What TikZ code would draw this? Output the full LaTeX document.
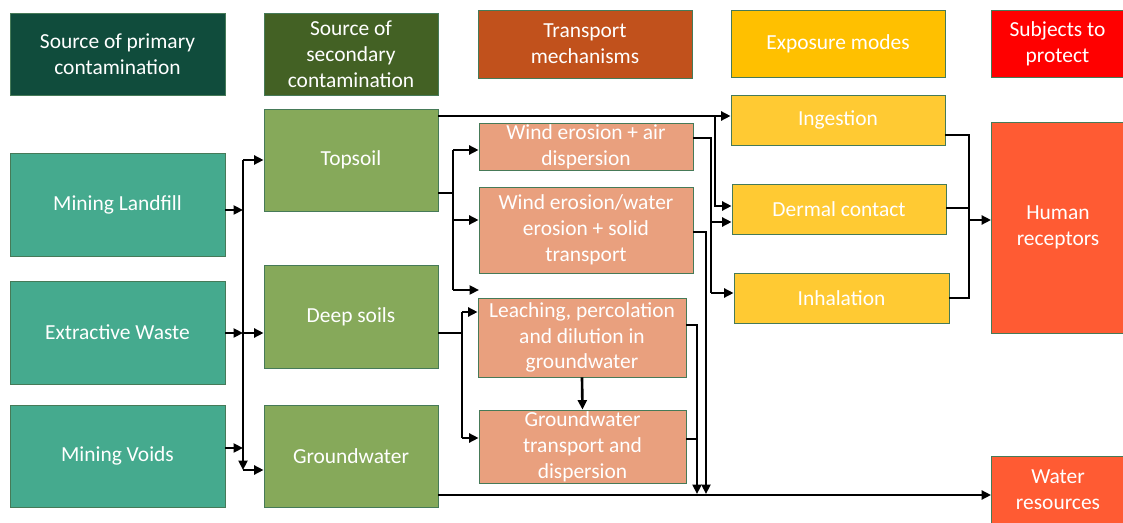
\documentclass[tikz,border=0pt]{standalone}
\usepackage{fontspec}
\setmainfont{Carlito}
\usetikzlibrary{arrows.meta}
\definecolor{primdark}{RGB}{16,76,60}
\definecolor{secdark}{RGB}{67,97,36}
\definecolor{transdark}{RGB}{193,81,28}
\definecolor{expodark}{RGB}{255,192,0}
\definecolor{subjred}{RGB}{255,0,0}
\definecolor{primteal}{RGB}{69,170,142}
\definecolor{secolive}{RGB}{134,169,90}
\definecolor{transsalmon}{RGB}{233,160,126}
\definecolor{expoyellow}{RGB}{255,202,51}
\definecolor{subjorange}{RGB}{255,91,51}
\definecolor{boxline}{RGB}{70,122,88}

\tikzset{box/.style={draw=boxline,line width=0.5pt,text=white,align=center,inner sep=0pt,font=\fontsize{12.2}{14.7}\selectfont}}

\begin{document}
\begin{tikzpicture}[>={Triangle[length=1.9mm,width=1.8mm]}, x={(0.02cm,0cm)}, y={(0cm,-0.02cm)}, line width=1.5pt]

    \useasboundingbox (0,0) rectangle (1123,523);

    % headers
    \node[box,fill=primdark,minimum width=4.3cm,minimum height=1.64cm] (hprim) at (117.5,54) {Source of primary\\contamination};
    \node[box,fill=secdark,minimum width=3.48cm,minimum height=1.64cm] (hsec) at (351,54) {Source of\\secondary\\contamination};
    \node[box,fill=transdark,minimum width=4.28cm,minimum height=1.36cm] (htrans) at (585,44) {Transport\\mechanisms};
    \node[box,fill=expodark,minimum width=4.28cm,minimum height=1.34cm] (hexpo) at (838,43.5) {Exposure modes};
    \node[box,fill=subjred,minimum width=2.66cm,minimum height=1.34cm] (hsubj) at (1057.5,43.5) {Subjects to\\protect};

    % primary sources
    \node[box,fill=primteal,minimum width=4.3cm,minimum height=2.06cm] (landfill) at (117.5,204.5) {Mining Landfill};
    \node[box,fill=primteal,minimum width=4.3cm,minimum height=2.06cm] (waste) at (117.5,332.5) {Extractive Waste};
    \node[box,fill=primteal,minimum width=4.3cm,minimum height=2.04cm] (voids) at (117.5,456) {Mining Voids};

    % secondary sources
    \node[box,fill=secolive,minimum width=3.48cm,minimum height=2.04cm] (topsoil) at (351,160) {Topsoil};
    \node[box,fill=secolive,minimum width=3.48cm,minimum height=2.06cm] (deep) at (351,316.5) {Deep soils};
    \node[box,fill=secolive,minimum width=3.48cm,minimum height=2.04cm] (gw) at (351,456) {Groundwater};

    % transport
    \node[box,fill=transsalmon,minimum width=4.28cm,minimum height=0.94cm] (air) at (586,146.5) {Wind erosion + air\\dispersion};
    \node[box,fill=transsalmon,minimum width=4.28cm,minimum height=1.72cm] (solid) at (586,230) {Wind erosion/water\\erosion + solid\\transport};
    \node[box,fill=transsalmon,minimum width=4.16cm,minimum height=1.58cm] (leach) at (582,337.5) {Leaching, percolation\\and dilution in\\groundwater};
    \node[box,fill=transsalmon,minimum width=4.14cm,minimum height=1.46cm] (gwtrans) at (582.5,446.5) {Groundwater\\transport and\\dispersion};

    % exposure
    \node[box,fill=expoyellow,minimum width=4.28cm,minimum height=1.0cm] (ingest) at (838,120) {Ingestion};
    \node[box,fill=expoyellow,minimum width=4.28cm,minimum height=1.0cm] (dermal) at (839,209) {Dermal contact};
    \node[box,fill=expoyellow,minimum width=4.3cm,minimum height=1.0cm] (inhal) at (841.5,298) {Inhalation};

    % subjects
    \node[box,fill=subjorange,minimum width=2.66cm,minimum height=4.22cm] (human) at (1058,227.5) {Human\\receptors};
    \node[box,fill=subjorange,minimum width=2.66cm,minimum height=1.36cm] (water) at (1058,490) {Water\\resources};

    % joints
    \coordinate (ptop) at (243,160);
    \coordinate (pbot) at (243,470);
    \coordinate (pland) at (243,210);
    \coordinate (pwaste) at (243,333);
    \coordinate (pvoids) at (243,448);
    \coordinate (tin) at (715,116);
    \coordinate (tdermal) at (715,206);
    \coordinate (tout) at (453,193);
    \coordinate (tair) at (453,150);
    \coordinate (tsolid) at (453,220);
    \coordinate (tlow) at (453,290);
    \coordinate (tfree) at (479,290);
    \coordinate (dout) at (462,333);
    \coordinate (dleach) at (462,312);
    \coordinate (dgw) at (462,438);
    \coordinate (aout) at (711,138);
    \coordinate (adermal) at (711,222);
    \coordinate (ainhal) at (711,293);
    \coordinate (sout) at (706,232);
    \coordinate (sdown) at (706,494);
    \coordinate (lout) at (697,325);
    \coordinate (ldown) at (697,494);
    \coordinate (gout) at (697,439);
    \coordinate (wline) at (700,495);
    \coordinate (eing) at (969,135);
    \coordinate (eder) at (969,208);
    \coordinate (einh) at (969,298);
    \coordinate (ehum) at (969,220);

    % primary -> secondary
    \draw[->] (landfill.east |- pland) -- (pland);
    \draw[->] (waste.east |- pwaste) -- (pwaste);
    \draw[->] (voids.east |- pvoids) -- (pvoids);
    \draw[->] (ptop) -- (pbot);
    \draw[->] (ptop) -- (topsoil.west |- ptop);
    \draw[->] (pwaste) -- (deep.west |- pwaste);
    \draw[->] (pbot) -- (gw.west |- pbot);

    % secondary -> transport
    \draw[->] (topsoil.east |- tin) -- (ingest.west |- tin);
    \draw[->] (tin) -- (tdermal) -- (dermal.west |- tdermal);
    \draw (topsoil.east |- tout) -- (tout);
    \draw (tair) -- (tlow);
    \draw[->] (tair) -- (air.west |- tair);
    \draw[->] (tsolid) -- (solid.west |- tsolid);
    \draw[->] (tlow) -- (tfree);
    \draw (deep.east |- dout) -- (dout);
    \draw (dleach) -- (dgw);
    \draw[->] (dleach) -- (leach.west |- dleach);
    \draw[->] (dgw) -- (gwtrans.west |- dgw);
    \draw[->] (leach.south) -- (gwtrans.north);

    % transport -> exposure
    \draw (air.east |- aout) -- (aout) -- (ainhal);
    \draw[->] (ainhal) -- (inhal.west |- ainhal);
    \draw[->] (adermal) -- (dermal.west |- adermal);
    \draw[->] (solid.east |- sout) -- (sout) -- (sdown);
    \draw[->] (leach.east |- lout) -- (lout) -- (ldown);
    \draw (gwtrans.east |- gout) -- (gout);
    \draw[->] (gw.east |- wline) -- (water.west |- wline);

    % exposure -> subjects
    \draw (ingest.east |- eing) -- (eing) -- (einh) -- (inhal.east |- einh);
    \draw (dermal.east |- eder) -- (eder);
    \draw[->] (ehum) -- (human.west |- ehum);

\end{tikzpicture}
\end{document}
